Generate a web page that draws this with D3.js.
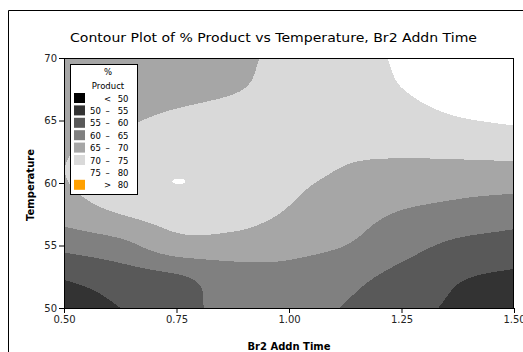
<!DOCTYPE html>
<html>
<head>
<meta charset="utf-8">
<script src="https://cdn.jsdelivr.net/npm/d3@7"></script>
<style>
  body { margin: 0; background: #fff; }
  svg { display: block; }
  text { font-family: "DejaVu Sans", Verdana, sans-serif; }
</style>
</head>
<body>
<svg id="chart" width="523" height="352"></svg>
<script>
// Grid of the fitted response: Br2 addition time (columns) by temperature (rows)
const addnTimes = [0.5, 0.625, 0.75, 0.875, 1.0, 1.125, 1.25, 1.375, 1.5];
const temperatures = [50, 52.5, 55, 57.5, 60, 62.5, 65, 67.5, 70];

// % product at each grid node, one array per temperature row
const productAt50   = [51.0, 55.0, 58.2, 61.5, 62.3, 59.7, 56.9, 54.0, 51.3];
const productAt52_5 = [55.5, 57.7, 59.5, 62.5, 63.5, 61.5, 58.6, 55.5, 54.1];
const productAt55   = [61.3, 63.5, 68.0, 68.0, 66.5, 65.0, 61.8, 59.0, 57.9];
const productAt57_5 = [67.0, 70.0, 72.0, 72.0, 69.5, 67.0, 64.6, 63.3, 62.0];
const productAt60   = [69.7, 73.0, 75.02, 73.5, 71.0, 69.0, 67.7, 66.8, 66.6];
const productAt62_5 = [69.6, 72.0, 73.0, 73.0, 72.5, 70.8, 70.6, 71.0, 71.4];
const productAt65   = [67.5, 69.3, 71.0, 72.0, 72.5, 73.0, 73.6, 74.7, 75.5];
const productAt67_5 = [66.8, 67.5, 68.5, 69.7, 71.5, 73.3, 74.95, 76.3, 77.0];
const productAt70   = [66.0, 66.8, 67.8, 69.1, 71.1, 73.4, 75.5, 77.3, 78.0];

// Contour levels, legend text and band colours
const levelBreaks = [50, 55, 60, 65, 70, 75, 80];
const levelLows  = ["", "50", "55", "60", "65", "70", "75", ""];
const levelMids  = ["<", "–", "–", "–", "–", "–", "–", ">"];
const levelHighs = ["50", "55", "60", "65", "70", "75", "80", "80"];
const levelColors = ["#000000", "#333333", "#595959", "#808080", "#a6a6a6", "#d9d9d9", "#ffffff", "#ffa000"];

const xTicks = [0.5, 0.75, 1.0, 1.25, 1.5];
const yTicks = [50, 55, 60, 65, 70];

const productRows = [productAt50, productAt52_5, productAt55, productAt57_5,
                     productAt60, productAt62_5, productAt65, productAt67_5, productAt70];

const svg = d3.select("#chart");
const plot = { left: 64, right: 514, top: 58, bottom: 308 };

const tMin = addnTimes[0], tMax = addnTimes[addnTimes.length - 1];
const TMin = temperatures[0], TMax = temperatures[temperatures.length - 1];

const x = d3.scaleLinear().domain([tMin, tMax]).range([plot.left, plot.right]);
const y = d3.scaleLinear().domain([TMin, TMax]).range([plot.bottom, plot.top]);

// Node lookup with linear extension past the grid edges
const nCols = addnTimes.length, nRows = temperatures.length;
function node(r, c) {
  if (c < 0) return 2 * node(r, 0) - node(r, 1);
  if (c > nCols - 1) return 2 * node(r, nCols - 1) - node(r, nCols - 2);
  if (r < 0) return 2 * node(0, c) - node(1, c);
  if (r > nRows - 1) return 2 * node(nRows - 1, c) - node(nRows - 2, c);
  return productRows[r][c];
}
function cubic(p0, p1, p2, p3, s) {
  return p1 + 0.5 * s * (p2 - p0 + s * (2 * p0 - 5 * p1 + 4 * p2 - p3 + s * (3 * (p1 - p2) + p3 - p0)));
}
// Smooth (bicubic) surface through the grid nodes
function surface(t, T) {
  const u = (t - tMin) / (addnTimes[1] - addnTimes[0]);
  const v = (T - TMin) / (temperatures[1] - temperatures[0]);
  const c = Math.min(Math.floor(u), nCols - 2), r = Math.min(Math.floor(v), nRows - 2);
  const su = u - c, sv = v - r;
  const rowVals = [];
  for (let k = -1; k <= 2; k++) {
    rowVals.push(cubic(node(r + k, c - 1), node(r + k, c), node(r + k, c + 1), node(r + k, c + 2), su));
  }
  return cubic(rowVals[0], rowVals[1], rowVals[2], rowVals[3], sv);
}

// Sample the surface on a fine raster covering the plot
const nx = plot.right - plot.left, ny = plot.bottom - plot.top;
const values = new Float64Array(nx * ny);
for (let j = 0; j < ny; j++) {
  const T = TMax - (j + 0.5) / ny * (TMax - TMin);
  for (let i = 0; i < nx; i++) {
    const t = tMin + (i + 0.5) / nx * (tMax - tMin);
    values[j * nx + i] = surface(t, T);
  }
}

const bands = d3.contours().size([nx, ny]).thresholds(levelBreaks)(values);
const toPlot = d3.geoTransform({
  point(px, py) {
    this.stream.point(x(tMin + px / nx * (tMax - tMin)), y(TMax - py / ny * (TMax - TMin)));
  }
});
const path = d3.geoPath(toPlot);

// Outer frame (top and left edges)
svg.append("path").attr("d", "M8.5,352V10.5H523").attr("fill", "none").attr("stroke", "#000");

// Title
svg.append("text")
  .attr("x", 70).attr("y", 42)
  .attr("textLength", 407).attr("lengthAdjust", "spacingAndGlyphs")
  .style("font-size", "13px").attr("fill", "#000")
  .text("Contour Plot of % Product vs Temperature, Br2 Addn Time");

// Filled contour bands
svg.append("rect")
  .attr("x", plot.left).attr("y", plot.top).attr("width", nx).attr("height", ny)
  .attr("fill", levelColors[0]);
svg.append("g").selectAll("path").data(bands).join("path")
  .attr("d", path)
  .attr("fill", (d, k) => levelColors[k + 1])
  .attr("shape-rendering", "crispEdges");

// Axes
const xAxis = d3.axisBottom(x).tickValues(xTicks).tickFormat(d3.format(".2f")).tickSize(5).tickSizeOuter(0);
const yAxis = d3.axisLeft(y).tickValues(yTicks).tickFormat(d3.format("d")).tickSize(5).tickPadding(2).tickSizeOuter(0);
const gx = svg.append("g").attr("transform", `translate(0,${plot.bottom})`).call(xAxis);
const gy = svg.append("g").attr("transform", `translate(${plot.left},0)`).call(yAxis);
[gx, gy].forEach(g => {
  g.selectAll("text").style("font-size", "10px").style("font-family", "'DejaVu Sans', sans-serif").attr("fill", "#222");
  g.selectAll("line").attr("stroke", "#000");
  g.select(".domain").remove();
});

svg.append("rect")
  .attr("x", plot.left + 0.5).attr("y", plot.top + 0.5)
  .attr("width", nx - 1).attr("height", ny)
  .attr("fill", "none").attr("stroke", "#000");

// Axis titles
svg.append("text")
  .attr("x", (plot.left + plot.right) / 2).attr("y", 350)
  .attr("text-anchor", "middle").style("font-size", "10px").style("font-weight", "bold")
  .text("Br2 Addn Time");
svg.append("text")
  .attr("transform", `translate(34,${(plot.top + plot.bottom) / 2 + 2}) rotate(-90)`)
  .attr("text-anchor", "middle").style("font-size", "10px").style("font-weight", "bold")
  .text("Temperature");

// Legend
const lg = svg.append("g").attr("transform", "translate(70,64)");
lg.append("rect").attr("x", 0.5).attr("y", 0.5).attr("width", 67).attr("height", 130)
  .attr("fill", "#fff").attr("stroke", "#000");
lg.append("text").attr("x", 38).attr("y", 11).attr("text-anchor", "middle")
  .style("font-size", "8.5px").text("%");
lg.append("text").attr("x", 38).attr("y", 25).attr("text-anchor", "middle")
  .style("font-size", "8.5px").text("Product");
const rows = lg.selectAll("g.item").data(levelColors).join("g")
  .attr("class", "item")
  .attr("transform", (d, k) => `translate(0,${29 + k * 12.4})`);
rows.append("rect").attr("x", 4).attr("y", 0).attr("width", 11).attr("height", 10)
  .attr("fill", d => d);
rows.append("text").attr("x", 20).attr("y", 8.5).style("font-size", "8.5px")
  .text((d, k) => levelLows[k]);
rows.append("text").attr("x", 37.5).attr("y", 8.5).attr("text-anchor", "middle").style("font-size", "8.5px")
  .text((d, k) => levelMids[k]);
rows.append("text").attr("x", 58.5).attr("y", 8.5).attr("text-anchor", "end").style("font-size", "8.5px")
  .text((d, k) => levelHighs[k]);
</script>
</body>
</html>
